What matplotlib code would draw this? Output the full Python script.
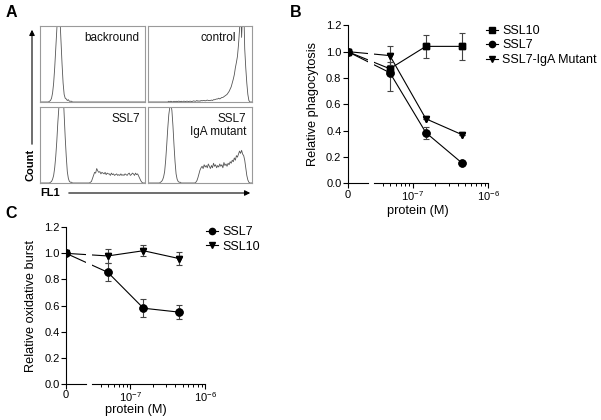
import numpy as np
import matplotlib
matplotlib.use('Agg')
import matplotlib.pyplot as plt
import matplotlib.patches as mpatches
from matplotlib.ticker import FixedLocator, FixedFormatter

plt.rcParams['font.family'] = ['Liberation Sans', 'DejaVu Sans']
plt.rcParams['mathtext.fontset'] = 'custom'
plt.rcParams['mathtext.rm'] = 'Liberation Sans'
plt.rcParams['mathtext.it'] = 'Liberation Sans:italic'
plt.rcParams['mathtext.bf'] = 'Liberation Sans:bold'

# ── Panel A: flow cytometry histograms (fraction of box height, FL1 0..1) ──
hist_bg = [0,0,0,0,0,0,0,0,0,0.01,
           0.02,0.05,0.12,0.25,0.45,0.7,0.95,1.2,1.3,1.1,
           0.8,0.5,0.25,0.1,0.05,0.04,0.02,0.03,0.01,0.01,
           0.01,0,0,0,0,0,0,0,0,0,
           0,0,0,0,0,0,0,0,0,0,
           0,0,0,0,0,0,0,0,0,0,
           0,0,0,0,0,0,0,0,0,0,
           0,0,0,0,0,0,0,0,0,0,
           0,0,0,0,0,0,0,0,0,0,
           0,0,0,0,0,0,0,0,0,0,
           0]
hist_ctl = [0,0,0,0,0,0,0,0,0,0,
            0,0,0,0,0,0,0,0,0,0,
            0.01,0,0.01,0.005,0,0.01,0,0.01,0.005,0.01,
            0.01,0.005,0.01,0,0.01,0.01,0.005,0.01,0.01,0.005,
            0.01,0.01,0.005,0.01,0.015,0.01,0.01,0.02,0.01,0.015,
            0.01,0.02,0.015,0.02,0.02,0.015,0.02,0.025,0.02,0.02,
            0.02,0.025,0.02,0.03,0.03,0.035,0.04,0.04,0.05,0.04,
            0.05,0.06,0.06,0.07,0.08,0.09,0.1,0.12,0.14,0.17,
            0.2,0.25,0.3,0.36,0.45,0.52,0.6,0.75,0.95,1.3,
            0.85,1.2,1.3,0.7,0.45,0.25,0.1,0.02,0,0,
            0]
hist_ssl7 = [0,0,0,0,0,0,0,0,0,0,
             0.01,0.02,0.05,0.1,0.2,0.35,0.55,0.8,1.0,1.15,
             1.3,1.35,1.2,0.9,0.6,0.35,0.15,0.06,0.02,0.01,
             0.01,0,0,0,0,0,0,0,0,0,
             0,0,0,0,0,0,0,0,0.01,0.02,
             0.06,0.1,0.14,0.13,0.19,0.16,0.14,0.15,0.12,0.14,
             0.13,0.12,0.14,0.11,0.13,0.12,0.12,0.1,0.13,0.11,
             0.12,0.1,0.11,0.12,0.1,0.11,0.1,0.12,0.1,0.11,
             0.1,0.12,0.11,0.1,0.12,0.13,0.1,0.11,0.13,0.12,
             0.1,0.13,0.11,0.12,0.09,0.06,0.03,0.01,0,0,
             0]
hist_iga = [0,0,0,0,0,0,0,0,0,0,
            0,0,0.01,0.02,0.04,0.08,0.15,0.3,0.5,0.72,
            0.9,1.0,1.05,0.95,0.75,0.5,0.28,0.12,0.05,0.02,
            0.01,0.01,0,0,0,0,0,0,0,0,
            0,0,0,0,0,0,0.01,0.03,0.07,0.12,
            0.17,0.2,0.22,0.19,0.24,0.21,0.23,0.2,0.25,0.22,
            0.19,0.23,0.2,0.26,0.22,0.24,0.2,0.23,0.21,0.25,
            0.22,0.24,0.2,0.27,0.23,0.25,0.22,0.26,0.24,0.28,
            0.26,0.3,0.28,0.33,0.3,0.36,0.34,0.38,0.42,0.39,
            0.43,0.38,0.36,0.3,0.2,0.1,0.04,0.01,0,0,
            0]
fl1 = np.linspace(0, 1, len(hist_bg))

# ── Panel B / C data ──
conc = [0, 5e-8, 1.5e-7, 4.5e-7]
phago_ssl10 = [1.0, 0.87, 1.04, 1.04]
phago_ssl10_err = [0, 0.05, 0.085, 0.10]
phago_ssl7 = [1.0, 0.84, 0.385, 0.155]
phago_ssl7_err = [0, 0.14, 0.045, 0]
phago_iga = [1.0, 0.97, 0.49, 0.37]
phago_iga_err = [0, 0.07, 0, 0]

burst_ssl7 = [1.0, 0.855, 0.58, 0.55]
burst_ssl7_err = [0, 0.07, 0.07, 0.055]
burst_ssl10 = [1.0, 0.98, 1.02, 0.96]
burst_ssl10_err = [0, 0.055, 0.04, 0.05]

X0 = -7.86             # where "0" sits on the log axis
BRK = (10**-7.59, 10**-7.51)   # axis break

def fwd(x):
    x = np.asarray(x, dtype=float)
    safe = np.where(x > 0, x, 1.0)
    return np.where(x > 0, np.log10(safe), X0)

def inv(y):
    return np.power(10.0, np.asarray(y, dtype=float))

W, H = 601, 420
fig = plt.figure(figsize=(W/100, H/100), dpi=100)

def px(x0, y0, x1, y1):
    return [x0/W, 1-y1/H, (x1-x0)/W, (y1-y0)/H]

# ── Panel A ──
boxes = [
    (px(40, 26, 145, 102), hist_bg, ['backround'], 0.943, 0.842),
    (px(148, 26, 252, 102), hist_ctl, ['control'], 0.846, 0.842),
    (px(40, 107, 145, 183), hist_ssl7, ['SSL7'], 0.952, 0.842),
    (px(148, 107, 252, 183), hist_iga, ['SSL7', 'IgA mutant'], 0.942, 0.842),
]
for rect, h, lbl, tx, ty in boxes:
    ax = fig.add_axes(rect)
    ax.plot(fl1, h, color='#555555', lw=0.6)
    ax.set_xlim(0, 1); ax.set_ylim(0, 1)
    ax.set_xticks([]); ax.set_yticks([])
    for s in ax.spines.values():
        s.set_color('#9a9a9a'); s.set_linewidth(0.8)
    for i, t in enumerate(lbl):
        ax.text(tx, ty - i*0.175, t, transform=ax.transAxes, ha='right', va='center',
                fontsize=8.5, color='#111111')

fig.add_artist(mpatches.FancyArrowPatch((32/W, 1-147/H), (32/W, 1-27/H),
    transform=fig.transFigure, arrowstyle='-|>', mutation_scale=8, lw=0.8, color='k'))
fig.add_artist(mpatches.FancyArrowPatch((66/W, 1-193/H), (253/W, 1-193/H),
    transform=fig.transFigure, arrowstyle='-|>', mutation_scale=8, lw=0.8, color='k'))
fig.text(30/W, 1-165/H, 'Count', rotation=90, ha='center', va='center',
         fontsize=8, fontweight='bold')
fig.text(50/W, 1-193/H, 'FL1', ha='center', va='center', fontsize=8, fontweight='bold')

# panel letters
for letter, x, y in [('A', 11, 12.5), ('B', 296, 12.5), ('C', 11, 214)]:
    fig.text(x/W, 1-y/H, letter, ha='center', va='center', fontsize=11.5, fontweight='bold')


def dose_axes(rect, series, ylabel, xlab_off, legend_xy):
    ax = fig.add_axes(rect)
    ax.set_xscale('function', functions=(fwd, inv))
    handles = []
    for y, err, mk, lab in series:
        ln, = ax.plot(conc, y, color='k', lw=0.8, marker=mk, ms=5, zorder=1.5, label=lab)
        ax.errorbar(conc, y, yerr=err, fmt='none', ecolor='#444444', elinewidth=0.8,
                    capsize=2.5, capthick=0.8, zorder=2)
        ax.plot(conc, y, ls='none', marker=mk, ms=5, color='k', zorder=3)
        handles.append(ln)
    ax.axvspan(BRK[0], BRK[1], color='white', lw=0, zorder=1.7)
    ax.set_xlim(0, 1e-6)
    ax.set_ylim(0, 1.2)
    ax.set_yticks(np.arange(0, 1.21, 0.2))
    ax.set_yticklabels(['%.1f' % v for v in np.arange(0, 1.21, 0.2)])
    ax.xaxis.set_major_locator(FixedLocator([0, 1e-7, 1e-6]))
    ax.xaxis.set_major_formatter(FixedFormatter(['0', r'$10^{-7}$', r'$10^{-6}$']))
    minors = [k*1e-8 for k in range(4, 10)] + [k*1e-7 for k in range(2, 10)]
    ax.xaxis.set_minor_locator(FixedLocator(minors))
    ax.xaxis.set_minor_formatter(FixedFormatter([''] * len(minors)))
    ax.spines['top'].set_visible(False)
    ax.spines['right'].set_visible(False)
    ax.spines['left'].set_linewidth(0.8)
    ax.spines['bottom'].set_linewidth(0.8)
    ax.spines['bottom'].set_bounds(BRK[1], 1e-6)
    ax.plot([0, BRK[0]], [0, 0], transform=ax.get_xaxis_transform(), color='k',
            lw=0.8, clip_on=False, zorder=3)
    ax.tick_params(which='major', direction='out', length=3.5, width=0.8, labelsize=8, pad=1)
    ax.tick_params(which='minor', direction='out', length=2.5, width=0.7)
    ax.set_ylabel(ylabel, fontsize=9.2, va='center')
    ax.yaxis.set_label_coords(-34.5/(rect[2]*W), 0.5)
    ax.set_xlabel('protein (M)', fontsize=9.2, va='center')
    ax.xaxis.set_label_coords(0.5, -xlab_off/(rect[3]*H))
    fig.legend(handles=handles, loc='upper left', bbox_to_anchor=legend_xy,
               bbox_transform=fig.transFigure, frameon=False, fontsize=9,
               handlelength=1.0, handletextpad=0.3, labelspacing=0.2,
               borderpad=0, borderaxespad=0, markerscale=0.9)
    return ax


dose_axes(px(347.7, 25.3, 488, 183.3),
          [(phago_ssl10, phago_ssl10_err, 's', 'SSL10'),
           (phago_ssl7, phago_ssl7_err, 'o', 'SSL7'),
           (phago_iga, phago_iga_err, 'v', 'SSL7-IgA Mutant')],
          'Relative phagocytosis', 28, (486/W, 1-25/H))

dose_axes(px(66, 227.2, 205, 384),
          [(burst_ssl7, burst_ssl7_err, 'o', 'SSL7'),
           (burst_ssl10, burst_ssl10_err, 'v', 'SSL10')],
          'Relative oxidative burst', 26, (206/W, 1-226/H))

fig.savefig('out.png', dpi=100, facecolor='white')
